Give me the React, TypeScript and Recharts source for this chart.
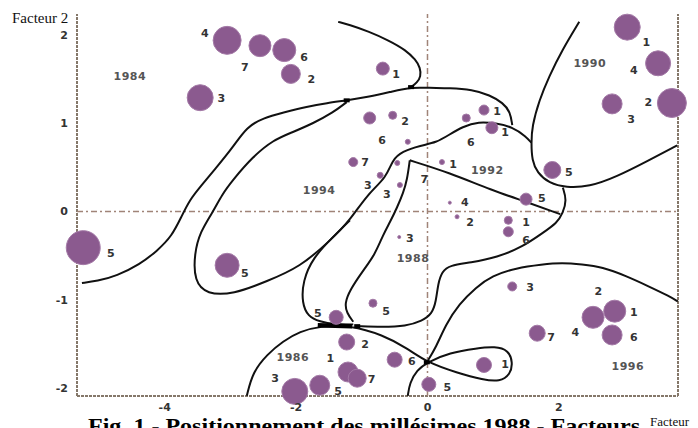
import React from 'react';
import { ScatterChart, Scatter, XAxis, YAxis, ZAxis, ReferenceLine } from 'recharts';

const xTicks = [-4, -2, 0, 2];
const yTicks = [2, 1, 0, -1, -2];
const xDomain: [number, number] = [-5.335, 3.813];
const yDomain: [number, number] = [-2.092, 2.239];

// bubbles: x = factor 1, y = factor 2, z = relative weight (area)
const bubbles = [
  { x: -3.05, y: 1.94, z: 7.84 },
  { x: -2.55, y: 1.88, z: 4.84 },
  { x: -2.18, y: 1.83, z: 5.29 },
  { x: -2.08, y: 1.56, z: 3.61 },
  { x: -3.46, y: 1.29, z: 6.76 },
  { x: -0.68, y: 1.62, z: 1.69 },
  { x: -5.24, y: -0.41, z: 11.56 },
  { x: -3.05, y: -0.61, z: 5.76 },
  { x: -0.88, y: 1.06, z: 1.44 },
  { x: -0.53, y: 1.09, z: 0.64 },
  { x: -0.3, y: 0.79, z: 0.25 },
  { x: -1.13, y: 0.56, z: 0.81 },
  { x: -0.46, y: 0.55, z: 0.25 },
  { x: -0.72, y: 0.41, z: 0.36 },
  { x: -0.42, y: 0.3, z: 0.25 },
  { x: 0.22, y: 0.56, z: 0.25 },
  { x: 0.59, y: 1.06, z: 0.64 },
  { x: 0.86, y: 1.15, z: 1.0 },
  { x: 0.98, y: 0.95, z: 1.44 },
  { x: 1.9, y: 0.47, z: 2.89 },
  { x: 1.5, y: 0.14, z: 1.44 },
  { x: 3.04, y: 2.09, z: 6.76 },
  { x: 3.51, y: 1.68, z: 6.25 },
  { x: 2.81, y: 1.22, z: 4.0 },
  { x: 3.72, y: 1.23, z: 8.41 },
  { x: 1.23, y: -0.1, z: 0.64 },
  { x: 1.23, y: -0.23, z: 1.0 },
  { x: 0.34, y: 0.1, z: 0.09 },
  { x: 0.45, y: -0.06, z: 0.16 },
  { x: -0.43, y: -0.29, z: 0.09 },
  { x: -0.83, y: -1.04, z: 0.64 },
  { x: -1.39, y: -1.2, z: 1.96 },
  { x: 1.29, y: -0.85, z: 0.81 },
  { x: -1.23, y: -1.48, z: 2.56 },
  { x: -1.21, y: -1.82, z: 4.0 },
  { x: -1.07, y: -1.89, z: 3.24 },
  { x: -2.02, y: -2.04, z: 6.76 },
  { x: -1.64, y: -1.97, z: 4.0 },
  { x: -0.5, y: -1.68, z: 2.25 },
  { x: 0.02, y: -1.96, z: 1.96 },
  { x: 0.86, y: -1.74, z: 2.25 },
  { x: 2.52, y: -1.2, z: 4.84 },
  { x: 2.85, y: -1.13, z: 4.84 },
  { x: 2.81, y: -1.4, z: 4.0 },
  { x: 1.67, y: -1.38, z: 2.56 },
];

const pointLabels = [
  { x: -3.39, y: 2.02, t: '4' },
  { x: -2.78, y: 1.63, t: '7' },
  { x: -1.88, y: 1.75, t: '6' },
  { x: -1.77, y: 1.5, t: '2' },
  { x: -3.14, y: 1.28, t: '3' },
  { x: -0.48, y: 1.55, t: '1' },
  { x: -4.82, y: -0.48, t: '5' },
  { x: -2.78, y: -0.7, t: '5' },
  { x: -0.34, y: 1.02, t: '2' },
  { x: -0.69, y: 0.8, t: '6' },
  { x: -0.95, y: 0.55, t: '7' },
  { x: -0.91, y: 0.29, t: '3' },
  { x: -0.62, y: 0.19, t: '3' },
  { x: -0.05, y: 0.36, t: '7' },
  { x: 0.39, y: 0.53, t: '1' },
  { x: 1.06, y: 1.13, t: '1' },
  { x: 1.18, y: 0.89, t: '1' },
  { x: 0.66, y: 0.78, t: '6' },
  { x: 2.15, y: 0.44, t: '5' },
  { x: 1.74, y: 0.15, t: '5' },
  { x: 3.33, y: 1.92, t: '1' },
  { x: 3.14, y: 1.6, t: '4' },
  { x: 3.1, y: 1.04, t: '3' },
  { x: 3.36, y: 1.24, t: '2' },
  { x: 0.57, y: 0.1, t: '4' },
  { x: 0.65, y: -0.12, t: '2' },
  { x: 1.5, y: -0.12, t: '1' },
  { x: 1.5, y: -0.33, t: '6' },
  { x: -0.27, y: -0.31, t: '3' },
  { x: -0.63, y: -1.13, t: '5' },
  { x: -1.67, y: -1.16, t: '5' },
  { x: 1.56, y: -0.86, t: '3' },
  { x: -0.95, y: -1.51, t: '2' },
  { x: -1.48, y: -1.67, t: '1' },
  { x: -0.85, y: -1.9, t: '7' },
  { x: -2.32, y: -1.89, t: '3' },
  { x: -1.36, y: -2.04, t: '5' },
  { x: -0.24, y: -1.7, t: '6' },
  { x: 0.3, y: -1.99, t: '5' },
  { x: 1.18, y: -1.74, t: '1' },
  { x: 2.6, y: -0.91, t: '2' },
  { x: 3.14, y: -1.14, t: '1' },
  { x: 3.14, y: -1.43, t: '6' },
  { x: 1.88, y: -1.43, t: '7' },
  { x: 2.25, y: -1.37, t: '4' },
];

const yearLabels = [
  { x: -4.53, y: 1.53, t: '1984' },
  { x: -1.65, y: 0.24, t: '1994' },
  { x: 0.91, y: 0.46, t: '1992' },
  { x: 2.47, y: 1.68, t: '1990' },
  { x: -0.22, y: -0.53, t: '1988' },
  { x: -2.05, y: -1.65, t: '1986' },
  { x: 3.05, y: -1.76, t: '1996' },
];

const curve1984 = [[-5.26, -0.81], [-5.03, -0.79], [-4.73, -0.73], [-4.38, -0.6], [-4.12, -0.45], [-3.89, -0.28], [-3.74, -0.05], [-3.62, 0.13], [-3.46, 0.28], [-3.2, 0.51], [-2.96, 0.73], [-2.75, 0.96], [-2.5, 1.06], [-2.2, 1.12], [-1.83, 1.19], [-1.53, 1.23], [-1.23, 1.26], [-0.89, 1.3], [-0.54, 1.36], [-0.24, 1.41], [0.02, 1.4], [0.34, 1.4], [0.68, 1.38], [0.95, 1.32], [1.15, 1.23], [1.26, 1.13], [1.29, 0.98]];
const curveCurl = [[-1.36, 2.15], [-1.2, 2.12], [-0.89, 2.04], [-0.59, 1.94], [-0.33, 1.83], [-0.18, 1.72], [-0.11, 1.63], [-0.1, 1.53], [-0.16, 1.46], [-0.25, 1.41]];
const curve1994 = [[-1.23, 1.24], [-1.44, 1.12], [-1.74, 1.0], [-2.05, 0.9], [-2.35, 0.81], [-2.66, 0.62], [-2.96, 0.36], [-3.13, 0.19], [-3.27, -0.01], [-3.46, -0.23], [-3.55, -0.48], [-3.55, -0.79], [-3.36, -0.94], [-2.96, -0.94], [-2.44, -0.79], [-1.94, -0.63], [-1.48, -0.33], [-1.18, -0.1], [-0.92, 0.19], [-0.62, 0.39], [-0.54, 0.58], [-0.39, 0.68], [-0.1, 0.75], [0.13, 0.78], [0.33, 0.87], [0.53, 0.96], [0.78, 1.02], [1.04, 1.0], [1.29, 0.96], [1.5, 0.85], [1.58, 0.78]];
const curve1990 = [[2.31, 2.15], [2.05, 1.83], [1.85, 1.53], [1.7, 1.26], [1.59, 0.96], [1.58, 0.78], [1.59, 0.58], [1.67, 0.44], [1.85, 0.32], [2.11, 0.27], [2.46, 0.28], [2.87, 0.39], [3.37, 0.58], [3.8, 0.75]];
const curve1988r = [[2.06, 0.27], [2.12, 0.13], [2.06, -0.02], [1.97, -0.13], [1.76, -0.24], [1.45, -0.4], [1.06, -0.52], [0.65, -0.58], [0.34, -0.61], [0.22, -0.68], [0.16, -0.82], [0.13, -1.02], [0.07, -1.16], [-0.08, -1.24], [-0.33, -1.3], [-0.69, -1.31], [-1.07, -1.3]];
const curve1992low = [[-0.27, 0.58], [0.33, 0.44], [0.98, 0.24], [1.5, 0.11], [2.02, -0.03]];
const curve1988l = [[-0.27, 0.58], [-0.31, 0.36], [-0.37, 0.21], [-0.46, 0.05], [-0.57, -0.12], [-0.68, -0.27], [-0.8, -0.49], [-1.0, -0.69], [-1.18, -0.89], [-1.26, -1.04], [-1.23, -1.15], [-1.13, -1.25]];
const curveLoop = [[-1.18, -0.1], [-1.44, -0.29], [-1.74, -0.52], [-1.9, -0.79], [-1.91, -1.04], [-1.82, -1.19], [-1.64, -1.25], [-1.41, -1.28], [-1.13, -1.28]];
const curve1986 = [[-2.75, -2.09], [-2.66, -1.82], [-2.44, -1.62], [-2.2, -1.47], [-1.94, -1.36], [-1.64, -1.3], [-1.18, -1.29], [-0.68, -1.4], [-0.31, -1.55], [-0.01, -1.71], [0.45, -1.83], [0.85, -1.91], [1.1, -1.93], [1.26, -1.85], [1.3, -1.71], [1.23, -1.57], [1.03, -1.53], [0.75, -1.55], [0.34, -1.6], [-0.01, -1.71], [-0.16, -1.8], [-0.27, -1.94], [-0.3, -2.09]];
const curve1996 = [[-0.01, -1.71], [0.13, -1.54], [0.28, -1.28], [0.48, -1.05], [0.74, -0.86], [0.98, -0.73], [1.35, -0.64], [1.74, -0.6], [2.05, -0.58], [2.35, -0.6], [2.66, -0.63], [3.02, -0.73], [3.37, -0.85], [3.68, -0.96], [3.81, -1.02]];
const thickSegment = [[-1.67, -1.29], [-1.15, -1.3]];
const junctions = [[-1.23, 1.26], [-0.25, 1.41], [-1.07, -1.3], [-0.01, -1.71]];

const curves = [curve1984, curveCurl, curve1994, curve1990, curve1988r, curve1992low, curve1988l, curveLoop, curve1986, curve1996];

const toPts = (arr: number[][]) => arr.map(([x, y]) => ({ x, y }));

const Empty = () => <g />;

const frameColor = '#85786a';
const frameStyle = { stroke: frameColor, strokeWidth: 2, strokeDasharray: '3 1' };
const tickStyle = { fontSize: 11, fontWeight: 'bold', fill: '#333', fontFamily: 'DejaVu Sans' };
const refStyle = { stroke: '#a08478', strokeWidth: 1.5, strokeDasharray: '6 3 2 3' };

const PointLabel = (p: any) => (
  <text x={p.cx} y={p.cy} textAnchor="middle" dominantBaseline="central" fontSize={11} fontWeight="bold" fill="#333" fontFamily="DejaVu Sans">
    {p.payload.t}
  </text>
);
const YearLabel = (p: any) => (
  <text x={p.cx} y={p.cy} textAnchor="middle" dominantBaseline="central" fontSize={11} fontWeight="bold" fill="#555" fontFamily="DejaVu Sans" letterSpacing={0.5}>
    {p.payload.t}
  </text>
);
const Junction = (p: any) => <rect x={p.cx - 3} y={p.cy - 2} width={6} height={4} fill="#000" />;

export default function App() {
  return (
    <div style={{ position: 'absolute', left: 0, top: 0, width: 698, height: 428, background: '#fff', overflow: 'hidden' }}>
      <ScatterChart width={698} height={428} margin={{ top: 14, right: 20, bottom: 0, left: 0 }}>
        <XAxis type="number" dataKey="x" domain={xDomain} ticks={xTicks} height={32} axisLine={false} tickLine={false} tick={tickStyle} tickSize={4} tickMargin={3} />
        <XAxis xAxisId="in" type="number" dataKey="x" domain={xDomain} ticks={xTicks} mirror axisLine={false} tick={false} tickLine={{ stroke: '#6d6256', strokeWidth: 1.5 }} tickSize={5} />
        <YAxis type="number" dataKey="y" domain={yDomain} ticks={yTicks} width={77} axisLine={false} tickLine={false} tick={tickStyle} tickSize={6} tickMargin={3} />
        <YAxis yAxisId="in" type="number" dataKey="y" domain={yDomain} ticks={yTicks} mirror axisLine={false} tick={false} tickLine={{ stroke: '#6d6256', strokeWidth: 1.5 }} tickSize={5} />
        <YAxis yAxisId="r" orientation="right" type="number" dataKey="y" domain={yDomain} ticks={yTicks} mirror axisLine={false} tick={false} tickLine={{ stroke: '#6d6256', strokeWidth: 1.5 }} tickSize={5} />
        <ZAxis zAxisId="b" type="number" dataKey="z" domain={[0, 12]} range={[0, 942.5]} />
        <ReferenceLine x={xDomain[0]} {...frameStyle} />
        <ReferenceLine x={xDomain[1]} {...frameStyle} />
        <ReferenceLine y={yDomain[0]} {...frameStyle} />
        <ReferenceLine x={0} {...refStyle} />
        <ReferenceLine y={0} {...refStyle} />
        {curves.map((c, i) => (
          <Scatter key={'c' + i} data={toPts(c)} line={{ stroke: '#111', strokeWidth: 2 }} lineJointType="basis" shape={Empty} isAnimationActive={false} />
        ))}
        <Scatter data={toPts(thickSegment)} line={{ stroke: '#000', strokeWidth: 4.5 }} lineJointType="linear" shape={Empty} isAnimationActive={false} />
        <Scatter data={toPts(junctions)} shape={Junction} isAnimationActive={false} />
        <Scatter data={bubbles} zAxisId="b" fill="#8b5a8f" stroke="#a47aa7" strokeWidth={1} isAnimationActive={false} />
        <Scatter data={pointLabels} shape={PointLabel} isAnimationActive={false} />
        <Scatter data={yearLabels} shape={YearLabel} isAnimationActive={false} />
      </ScatterChart>
      <svg width={698} height={428} style={{ position: 'absolute', left: 0, top: 0, pointerEvents: 'none' }}>
        <text x={12} y={23} fontFamily="Liberation Serif" fontSize={15} fill="#111">Facteur 2</text>
        <text x={650} y={426} fontFamily="Liberation Serif" fontSize={13} fill="#111">Facteur</text>
        <text x={88} y={433} fontFamily="Liberation Serif" fontWeight="bold" fontSize={22} fill="#000" textLength={552} lengthAdjust="spacingAndGlyphs">Fig. 1 - Positionnement des millésimes 1988 - Facteurs</text>
      </svg>
    </div>
  );
}
